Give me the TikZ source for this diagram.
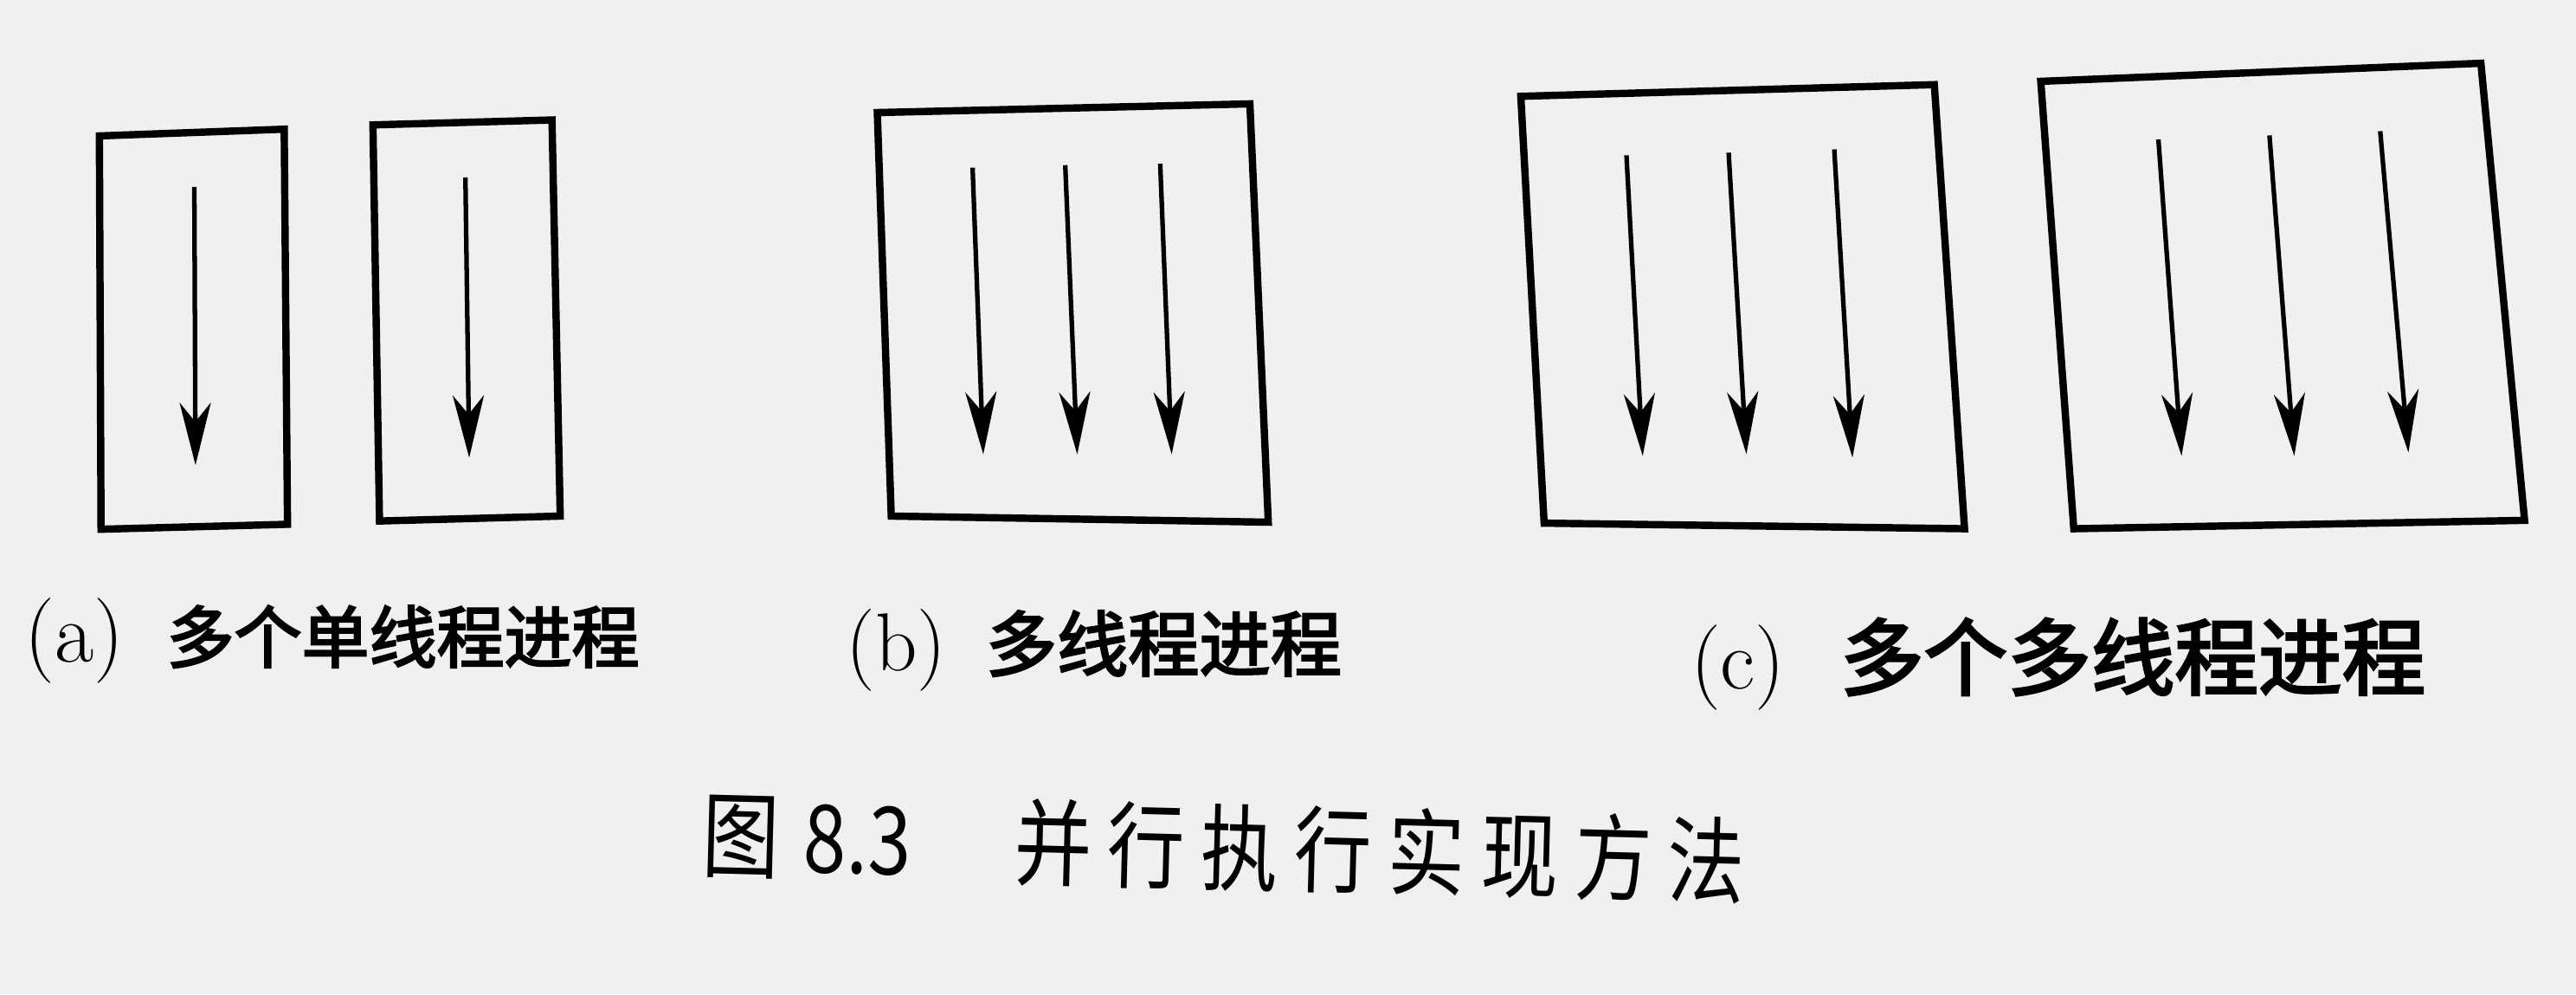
\documentclass[tikz,border=0pt]{standalone}
\usepackage{fontspec}
\usetikzlibrary{arrows.meta}
\newfontfamily\cjklab{Noto Sans CJK SC}[FakeBold=3]
\newfontfamily\cjkcap{Noto Sans CJK SC}[FakeStretch=0.82, LetterSpace=17]
\newfontfamily\numcap{Noto Sans CJK SC}[FakeStretch=0.82]
\begin{document}
\begin{tikzpicture}[x=0.01898cm,y=-0.01898cm,
  boxline/.style={line width=2.4pt, line join=miter},
  thread/.style={line width=1.5pt, -{Stealth[length=0.72cm,width=0.36cm,inset=0.22cm]}},
  lab/.style={anchor=base west, inner sep=0pt, outer sep=0pt}]
\fill[black!6] (0,0) rectangle (1568,605);
\useasboundingbox (0,0) rectangle (1568,605);

% ---- (a) two single-thread processes
\coordinate (a1tl) at (60.5,82.7);  \coordinate (a1tr) at (173,78.6);
\coordinate (a1br) at (175,319);    \coordinate (a1bl) at (61.5,322);
\draw[boxline] (a1tl) -- (a1tr) -- (a1br) -- (a1bl) -- cycle;
\coordinate (a1s) at (118.3,113.8); \coordinate (a1e) at (119,283);
\draw[thread] (a1s) -- (a1e);

\coordinate (a2tl) at (227,76);  \coordinate (a2tr) at (336,73);
\coordinate (a2br) at (341,314); \coordinate (a2bl) at (231,317);
\draw[boxline] (a2tl) -- (a2tr) -- (a2br) -- (a2bl) -- cycle;
\coordinate (a2s) at (283.3,108); \coordinate (a2e) at (285.6,278.5);
\draw[thread] (a2s) -- (a2e);

% ---- (b) one multi-thread process
\coordinate (btl) at (534,68.5);  \coordinate (btr) at (760.8,63.2);
\coordinate (bbr) at (772,317.7); \coordinate (bbl) at (542.5,314);
\draw[boxline] (btl) -- (btr) -- (bbr) -- (bbl) -- cycle;
\coordinate (b1s) at (592,102);   \coordinate (b1e) at (598.5,276.4);
\coordinate (b2s) at (648.4,100.5); \coordinate (b2e) at (655.7,276.4);
\coordinate (b3s) at (706.2,99.6); \coordinate (b3e) at (713.2,276.4);
\draw[thread] (b1s) -- (b1e);
\draw[thread] (b2s) -- (b2e);
\draw[thread] (b3s) -- (b3e);

% ---- (c) two multi-thread processes
\coordinate (c1tl) at (925.7,58.6);  \coordinate (c1tr) at (1177.4,51.5);
\coordinate (c1br) at (1195.8,321.7); \coordinate (c1bl) at (939.9,318.3);
\draw[boxline] (c1tl) -- (c1tr) -- (c1br) -- (c1bl) -- cycle;
\coordinate (c11s) at (990,94.5);    \coordinate (c11e) at (999.9,277.4);
\coordinate (c12s) at (1052.2,92.9); \coordinate (c12e) at (1063,276.3);
\coordinate (c13s) at (1116.5,90.9); \coordinate (c13e) at (1127.6,278.4);
\draw[thread] (c11s) -- (c11e);
\draw[thread] (c12s) -- (c12e);
\draw[thread] (c13s) -- (c13e);

\coordinate (c2tl) at (1242.2,49.5);  \coordinate (c2tr) at (1510.1,38.5);
\coordinate (c2br) at (1536.7,316.6); \coordinate (c2bl) at (1262.3,321.7);
\draw[boxline] (c2tl) -- (c2tr) -- (c2br) -- (c2bl) -- cycle;
\coordinate (c21s) at (1313.8,84.8); \coordinate (c21e) at (1327.9,277.4);
\coordinate (c22s) at (1381.4,82.4); \coordinate (c22e) at (1396.5,277.4);
\coordinate (c23s) at (1448.8,79.8); \coordinate (c23e) at (1466,275.3);
\draw[thread] (c21s) -- (c21e);
\draw[thread] (c22s) -- (c22e);
\draw[thread] (c23s) -- (c23e);

% ---- labels
\node[lab] (la) at (15,403) {\fontsize{28}{32}\selectfont(a)\hspace{14pt}{\cjklab\fontsize{22.2}{27}\selectfont 多个单线程进程}};
\node[lab] (lb) at (515,408) {\fontsize{27}{31}\selectfont(b)\hspace{13pt}{\cjklab\fontsize{23.4}{28}\selectfont 多线程进程}};
\node[lab] (lc) at (1029,419) {\fontsize{28}{32}\selectfont(c)\hspace{18pt}{\cjklab\fontsize{27.5}{32}\selectfont 多个多线程进程}};

% ---- caption
\node[lab, rotate=-1.5] (cap) at (427,529) {\fontsize{31}{35}\selectfont{\cjkcap 图}\hspace{8pt}{\numcap 8.3}\hspace{34pt}{\cjkcap 并行执行实现方法}};
\end{tikzpicture}
\end{document}
